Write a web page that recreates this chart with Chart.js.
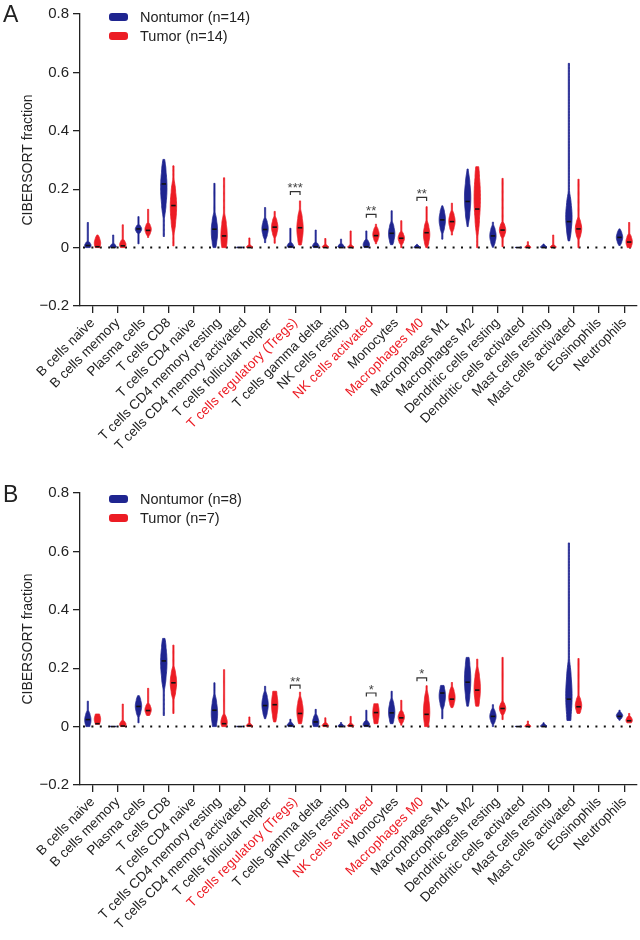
<!DOCTYPE html>
<html>
<head>
<meta charset="utf-8">
<script src="https://cdn.jsdelivr.net/npm/chart.js@4.4.0/dist/chart.umd.min.js"></script>
<style>
  body { margin: 0; background: #fff; }
  #page { position: relative; width: 640px; height: 940px; font-family: 'Liberation Sans', Arial, sans-serif; color: #222; }
  .panel { position: absolute; left: 0; }
  .letter { position: absolute; left: 3px; font-size: 23px; line-height: 22px; }
  .legend { position: absolute; left: 109px; font-size: 14.5px; }
  .legend div { display: flex; align-items: center; height: 19px; }
  .legend .box { width: 19px; height: 8px; border-radius: 3px; margin-right: 12px; }
</style>
</head>
<body>
<div id="page">
  <div class="panel" style="top:0"><canvas id="chartA" width="640" height="479"></canvas></div>
  <div class="panel" style="top:479px"><canvas id="chartB" width="640" height="461"></canvas></div>
  <div class="letter" style="top:3px">A</div>
  <div class="letter" style="top:483px">B</div>
  <div class="legend" style="top:7px">
    <div><span class="box" style="background:#1f2590"></span>Nontumor (n=14)</div>
    <div><span class="box" style="background:#ec1c24"></span>Tumor (n=14)</div>
  </div>
  <div class="legend" style="top:489px">
    <div><span class="box" style="background:#1f2590"></span>Nontumor (n=8)</div>
    <div><span class="box" style="background:#ec1c24"></span>Tumor (n=7)</div>
  </div>
</div>
<script>
// 細胞類型
const cellTypes = [
    'B cells naive', 'B cells memory', 'Plasma cells', 'T cells CD8', 'T cells CD4 naive',
    'T cells CD4 memory resting', 'T cells CD4 memory activated', 'T cells follicular helper',
    'T cells regulatory (Tregs)', 'T cells gamma delta', 'NK cells resting', 'NK cells activated',
    'Monocytes', 'Macrophages M0', 'Macrophages M1', 'Macrophages M2', 'Dendritic cells resting',
    'Dendritic cells activated', 'Mast cells resting', 'Mast cells activated', 'Eosinophils', 'Neutrophils'
];
const highlighted = [8, 11, 13];
const yTicks = [-0.2, 0, 0.2, 0.4, 0.6, 0.8];

// 每個小提琴: [min, q1, median, q3, max]
const nontumorA = [
    [0, 0, 0.007, 0.015, 0.086], [0, 0, 0, 0.008, 0.043], [0.013, 0.055, 0.064, 0.072, 0.106],
    [0.038, 0.15, 0.218, 0.26, 0.302], null, [0, 0.02, 0.063, 0.09, 0.22],
    [0, 0, 0, 0.001, 0.002], [0.017, 0.045, 0.062, 0.085, 0.137], [0, 0, 0.003, 0.012, 0.066],
    [0, 0, 0.003, 0.012, 0.06], [0, 0, 0, 0.008, 0.029], [0, 0, 0.003, 0.02, 0.057],
    [0.01, 0.025, 0.049, 0.07, 0.126], [0, 0, 0, 0.003, 0.011], [0.029, 0.07, 0.095, 0.12, 0.143],
    [0.072, 0.12, 0.158, 0.22, 0.269], [0.001, 0.02, 0.04, 0.06, 0.087], [0, 0, 0, 0.001, 0.001],
    [0, 0, 0, 0.004, 0.012], [0.023, 0.06, 0.089, 0.15, 0.631], null, [0.007, 0.02, 0.035, 0.05, 0.064]
];
const tumorA = [
    [0, 0, 0.003, 0.03, 0.043], [0, 0, 0.006, 0.02, 0.078], [0.035, 0.05, 0.059, 0.075, 0.131],
    [0.006, 0.09, 0.144, 0.19, 0.28], null, [0, 0, 0.04, 0.08, 0.239],
    [0, 0, 0, 0.004, 0.033], [0.015, 0.05, 0.07, 0.09, 0.124], [0.009, 0.03, 0.068, 0.1, 0.16],
    [0, 0, 0, 0.005, 0.031], [0, 0, 0, 0.004, 0.057], [0.013, 0.03, 0.041, 0.06, 0.08],
    [0, 0.02, 0.032, 0.045, 0.092], [0, 0.02, 0.051, 0.07, 0.14], [0.043, 0.07, 0.089, 0.11, 0.152],
    [0, 0.1, 0.132, 0.24, 0.277], [0.003, 0.045, 0.06, 0.075, 0.237], [0, 0, 0, 0.003, 0.02],
    [0, 0, 0, 0.004, 0.043], [0, 0.045, 0.064, 0.085, 0.234], null, [0, 0.005, 0.019, 0.035, 0.086]
];
const nontumorB = [
    [0, 0.005, 0.024, 0.04, 0.087], [0, 0, 0, 0.001, 0.001], [0.013, 0.05, 0.069, 0.09, 0.106],
    [0.038, 0.17, 0.225, 0.27, 0.302], null, [0, 0.01, 0.056, 0.08, 0.15],
    [0, 0, 0, 0.001, 0.001], [0.027, 0.05, 0.072, 0.1, 0.138], [0, 0, 0.003, 0.01, 0.025],
    [0, 0, 0.016, 0.03, 0.059], [0, 0, 0, 0.004, 0.014], [0, 0, 0.003, 0.015, 0.056],
    [0.01, 0.025, 0.047, 0.075, 0.121], null, [0.027, 0.08, 0.115, 0.13, 0.141],
    [0.07, 0.11, 0.152, 0.21, 0.237], [0, 0.02, 0.035, 0.05, 0.075], [0, 0, 0, 0.001, 0.001],
    [0, 0, 0, 0.004, 0.013], [0.021, 0.04, 0.094, 0.17, 0.629], null, [0.022, 0.03, 0.035, 0.045, 0.056]
];
const tumorB = [
    [0.008, 0.01, 0.01, 0.04, 0.043], [0, 0, 0.002, 0.015, 0.077], [0.038, 0.045, 0.055, 0.07, 0.131],
    [0.045, 0.12, 0.15, 0.18, 0.279], null, [0, 0, 0.01, 0.03, 0.195],
    [0, 0, 0.003, 0.006, 0.033], [0.016, 0.04, 0.075, 0.11, 0.121], [0.01, 0.025, 0.045, 0.08, 0.118],
    [0, 0, 0.003, 0.008, 0.03], [0, 0, 0.003, 0.006, 0.035], [0.01, 0.02, 0.048, 0.075, 0.078],
    [0.005, 0.02, 0.03, 0.045, 0.09], [0, 0.01, 0.042, 0.09, 0.14], [0.065, 0.08, 0.094, 0.12, 0.151],
    [0.07, 0.09, 0.125, 0.17, 0.231], [0.024, 0.05, 0.062, 0.075, 0.237], [0, 0, 0, 0.003, 0.019],
    null, [0.045, 0.055, 0.068, 0.09, 0.233], null, [0.013, 0.013, 0.02, 0.03, 0.045]
];

// 顯著性標記
const sigIndexA = [8, 11, 13];
const sigLevelA = [0.192, 0.114, 0.172];
const sigMarkA = ['***', '**', '**'];
const sigIndexB = [8, 11, 13];
const sigLevelB = [0.142, 0.115, 0.167];
const sigMarkB = ['**', '*', '*'];

const BLUE = '#1f2590';
const RED = '#ec1c24';
const INK = '#222';

Chart.defaults.font.family = "'Liberation Sans', Arial, sans-serif";
Chart.defaults.color = INK;

/**
 * 小提琴寬度輪廓 (0..1)
 */
function violinShape(v, s) {
    const c = (s[1] + s[3]) / 2;
    const h = Math.max((s[3] - s[1]) / 2, 0.002);
    const spread = Math.max(h * 0.8, 0.006);
    const d = Math.abs(v - c);
    if (d <= h) return 1 - 0.3 * (d / h) * (d / h);
    const t = (d - h) / spread;
    return 0.7 * Math.exp(-t * t);
}

function drawViolin(ctx, cx, yScale, s, halfW, color) {
    const n = 60;
    const pts = [];
    for (let k = 0; k <= n; k++) {
        const v = s[0] + (s[4] - s[0]) * k / n;
        pts.push([Math.max(halfW * violinShape(v, s), 0.6), yScale.getPixelForValue(v)]);
    }
    ctx.beginPath();
    pts.forEach(([w, py], k) => k ? ctx.lineTo(cx - w, py) : ctx.moveTo(cx - w, py));
    for (let k = pts.length - 1; k >= 0; k--) ctx.lineTo(cx + pts[k][0], pts[k][1]);
    ctx.closePath();
    ctx.fillStyle = color;
    ctx.strokeStyle = color;
    ctx.lineWidth = 0.8;
    ctx.fill();
    ctx.stroke();

    const my = yScale.getPixelForValue(s[2]);
    ctx.beginPath();
    ctx.moveTo(cx - halfW * 0.7, my);
    ctx.lineTo(cx + halfW * 0.7, my);
    ctx.strokeStyle = '#111';
    ctx.lineWidth = 1.6;
    ctx.stroke();
}

// 零線 (虛點)
const zeroLinePlugin = {
    id: 'zeroLine',
    beforeDatasetsDraw(chart) {
        const { ctx, scales: { x, y } } = chart;
        const py = y.getPixelForValue(0);
        ctx.save();
        ctx.beginPath();
        ctx.setLineDash([2, 6.4]);
        ctx.moveTo(x.left + 3, py);
        ctx.lineTo(x.right, py);
        ctx.strokeStyle = '#111';
        ctx.lineWidth = 2;
        ctx.stroke();
        ctx.restore();
    }
};

// 小提琴圖
const violinPlugin = {
    id: 'violins',
    afterDatasetsDraw(chart) {
        const { ctx, scales: { x, y } } = chart;
        const step = x.getPixelForValue(1) - x.getPixelForValue(0);
        ctx.save();
        ctx.beginPath();
        ctx.rect(chart.chartArea.left, chart.chartArea.top, chart.chartArea.width, chart.chartArea.height);
        ctx.clip();
        chart.data.datasets.forEach((ds, di) => {
            const shift = (di === 0 ? -1 : 1) * step * 0.19;
            ds.stats.forEach((s, i) => {
                if (!s) return;
                drawViolin(ctx, x.getPixelForValue(i) + shift, y, s, step * 0.125, ds.borderColor);
            });
        });
        ctx.restore();
    }
};

// 顯著性括號
const sigPlugin = {
    id: 'sig',
    afterDatasetsDraw(chart, args, opts) {
        const { ctx, scales: { x, y } } = chart;
        const step = x.getPixelForValue(1) - x.getPixelForValue(0);
        ctx.save();
        opts.index.forEach((idx, k) => {
            const cx = x.getPixelForValue(idx);
            const py = y.getPixelForValue(opts.level[k]);
            const x0 = cx - step * 0.19, x1 = cx + step * 0.19;
            ctx.beginPath();
            ctx.moveTo(x0, py + 3.5);
            ctx.lineTo(x0, py);
            ctx.lineTo(x1, py);
            ctx.lineTo(x1, py + 3.5);
            ctx.strokeStyle = '#333';
            ctx.lineWidth = 1.2;
            ctx.stroke();
            ctx.fillStyle = '#444';
            ctx.font = "13px 'Liberation Sans', Arial, sans-serif";
            ctx.textAlign = 'center';
            ctx.textBaseline = 'alphabetic';
            ctx.fillText(opts.mark[k], cx, py + 0.5);
        });
        ctx.restore();
    }
};

function makeChart(id, nonStats, tumStats, sigIndex, sigLevel, sigMark) {
    const canvas = document.getElementById(id);
    const canvasH = canvas.height;
    return new Chart(canvas, {
        type: 'line',
        data: {
            labels: cellTypes,
            datasets: [
                {
                    label: 'Nontumor',
                    data: nonStats.map(s => s ? s[2] : null),
                    stats: nonStats,
                    borderColor: BLUE,
                    backgroundColor: BLUE,
                    showLine: false,
                    pointRadius: 0
                },
                {
                    label: 'Tumor',
                    data: tumStats.map(s => s ? s[2] : null),
                    stats: tumStats,
                    borderColor: RED,
                    backgroundColor: RED,
                    showLine: false,
                    pointRadius: 0
                }
            ]
        },
        options: {
            responsive: false,
            animation: false,
            devicePixelRatio: 1,
            layout: { padding: { top: 14, right: 3, left: 0, bottom: 0 } },
            plugins: {
                legend: { display: false },
                tooltip: { enabled: false },
                sig: { index: sigIndex, level: sigLevel, mark: sigMark }
            },
            scales: {
                x: {
                    offset: true,
                    grid: {
                        display: true,
                        drawOnChartArea: false,
                        offset: false,
                        color: INK,
                        lineWidth: 1.3,
                        tickLength: 7
                    },
                    border: { color: INK, width: 1.3 },
                    ticks: {
                        autoSkip: false,
                        minRotation: 45,
                        maxRotation: 45,
                        padding: 2,
                        font: { size: 13.5 },
                        color: ctx => highlighted.includes(ctx.index) ? RED : INK
                    },
                    afterFit: scale => { scale.height = canvasH - 306; }
                },
                y: {
                    min: -0.2,
                    max: 0.8,
                    afterBuildTicks: scale => { scale.ticks = yTicks.map(v => ({ value: v })); },
                    grid: {
                        display: true,
                        drawOnChartArea: false,
                        color: INK,
                        lineWidth: 1.3,
                        tickLength: 7
                    },
                    border: { color: INK, width: 1.3 },
                    ticks: {
                        padding: 4,
                        font: { size: 15 },
                        color: INK,
                        callback: value => {
                            const v = Math.round(value * 10) / 10;
                            if (v === 0) return '0';
                            return (v < 0 ? '\u2212' : '') + Math.abs(v).toFixed(1);
                        }
                    },
                    title: {
                        display: true,
                        text: 'CIBERSORT fraction',
                        color: INK,
                        font: { size: 14 },
                        padding: { top: 20, bottom: 0 }
                    },
                    afterFit: scale => { scale.width = 80; }
                }
            }
        },
        plugins: [zeroLinePlugin, violinPlugin, sigPlugin]
    });
}

makeChart('chartA', nontumorA, tumorA, sigIndexA, sigLevelA, sigMarkA);
makeChart('chartB', nontumorB, tumorB, sigIndexB, sigLevelB, sigMarkB);
</script>
</body>
</html>
